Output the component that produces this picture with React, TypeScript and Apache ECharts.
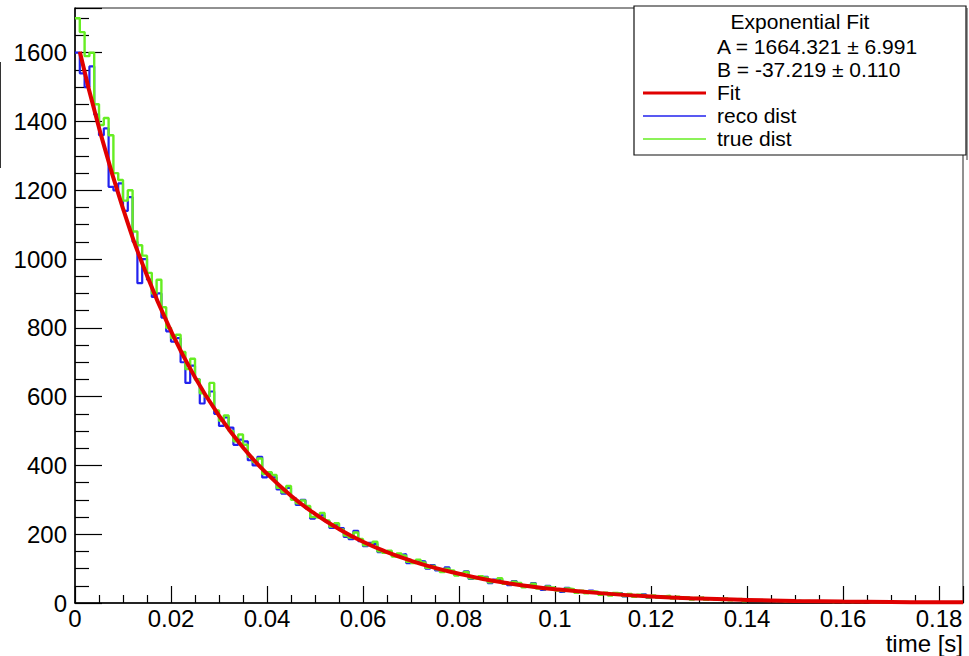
import React, { useEffect, useRef } from "react";
import * as echarts from "echarts";

const BIN_WIDTH = 0.001;
const trueDist = [
  1700, 1660, 1590, 1600, 1450, 1390, 1410, 1360, 1250, 1230,
  1170, 1200, 1080, 1040, 1010, 960, 900, 940, 860, 800,
  770, 780, 730, 680, 710, 650, 610, 600, 640, 560,
  530, 545, 500, 470, 490, 460, 425, 410, 420, 375,
  380, 372, 335, 322, 340, 300, 290, 298, 282, 250,
  248, 262, 240, 222, 232, 214, 196, 190, 205, 186,
  168, 172, 178, 150, 146, 152, 135, 144, 138, 120,
  116, 126, 118, 102, 108, 98, 90, 100, 95, 80,
  86, 90, 72, 70, 78, 74, 60, 66, 72, 56,
  54, 62, 58, 46, 52, 56, 42, 40, 48, 45,
  36, 34, 42, 40, 30, 36, 28, 34, 33, 24,
  30, 22, 29, 27, 20, 26, 18, 24, 23, 16,
  22, 15, 20, 21, 13, 18, 12, 17, 10, 15,
  16, 9, 14, 10, 8, 13, 8, 11, 12, 6,
  9, 7, 8, 6, 8, 6, 7, 5, 7, 5,
  6, 5, 6, 4, 5, 4, 5, 3, 5, 3,
  4, 3, 4, 3, 4, 2, 3, 2, 3, 2,
  3, 2, 3, 2, 2, 1, 2, 2, 1, 2,
  1, 2, 1, 1, 1,
];
const recoDist = [
  1600, 1540, 1500, 1560, 1420, 1360, 1380, 1210, 1200, 1220,
  1140, 1180, 1050, 930, 1000, 940, 890, 900, 830, 790,
  760, 770, 700, 640, 690, 650, 580, 600, 615, 550,
  515, 540, 510, 460, 475, 470, 415, 400, 425, 365,
  375, 365, 330, 318, 335, 305, 285, 300, 275, 245,
  250, 255, 238, 218, 228, 218, 192, 186, 210, 180,
  165, 175, 172, 148, 150, 148, 138, 140, 142, 116,
  120, 122, 121, 100, 110, 95, 93, 104, 92, 84,
  82, 92, 70, 73, 76, 76, 58, 68, 70, 58,
  52, 64, 56, 48, 50, 58, 44, 38, 50, 43,
  38, 32, 44, 38, 32, 34, 30, 36, 31, 26,
  28, 24, 27, 29, 19, 24, 20, 22, 25, 15,
  20, 16, 19, 19, 14, 17, 13, 15, 11, 14,
  15, 10, 13, 11, 9, 12, 9, 10, 11, 7,
  8, 7, 8, 7, 7, 6, 7, 6, 6, 5,
  6, 5, 5, 4, 5, 4, 4, 3, 4, 3,
  4, 3, 3, 3, 3, 2, 3, 2, 3, 2,
  2, 2, 2, 2, 2, 1, 2, 2, 1, 2,
  1, 1, 1, 1, 1,
];
const fitT = [
  0.001, 0.005, 0.01, 0.015, 0.02, 0.025, 0.03, 0.035, 0.04, 0.045,
  0.05, 0.055, 0.06, 0.065, 0.07, 0.075, 0.08, 0.085, 0.09, 0.095,
  0.1, 0.11, 0.12, 0.13, 0.14, 0.15, 0.16, 0.17, 0.18, 0.185,
];
const fitV = [
  1603, 1382, 1147, 952, 791, 656, 545, 452, 376, 312,
  259, 215, 178, 148, 123, 102, 85, 70, 58, 48,
  40, 28, 19, 13, 9, 6, 4, 3, 2, 2,
];
const legendTitle = "Exponential Fit";
const legendA = "A = 1664.321 ± 6.991";
const legendB = "B = -37.219 ± 0.110";
const legendNames = ["Fit", "reco dist", "true dist"];
const xTitle = "time [s]";

function histPoints(vals: number[]) {
  const pts: [number, number][] = [];
  vals.forEach((v, i) => pts.push([+(i * BIN_WIDTH).toFixed(4), v]));
  pts.push([+(vals.length * BIN_WIDTH).toFixed(4), vals[vals.length - 1]]);
  return pts;
}

export default function App() {
  const ref = useRef<HTMLDivElement>(null);
  useEffect(() => {
    if (!ref.current) return;
    const chart = echarts.init(ref.current, null, { renderer: "svg" });
    const font = "Liberation Sans, Arial, sans-serif";
    const RED = "#e00000";
    const BLUE = "#2222ee";
    const GREEN = "#66ee22";
    const legendColors = [RED, BLUE, GREEN];
    const legendY = [93, 116, 139];
    chart.setOption({
      animation: false,
      backgroundColor: "#ffffff",
      grid: {
        left: 75,
        top: 8,
        right: 6,
        bottom: 53,
        show: true,
        borderColor: "#222",
        borderWidth: 1,
        backgroundColor: "transparent",
      },
      xAxis: {
        type: "value",
        min: 0,
        max: 0.185,
        interval: 0.02,
        axisLine: { show: true, onZero: false, lineStyle: { color: "#000", width: 1.5 } },
        axisTick: { show: true, inside: true, length: 17, lineStyle: { color: "#000", width: 1.2 } },
        minorTick: { show: true, splitNumber: 4, length: 8, lineStyle: { color: "#000", width: 1.2 } },
        splitLine: { show: false },
        axisLabel: {
          color: "#000",
          fontSize: 24,
          fontFamily: font,
          margin: 3,
          showMaxLabel: false,
          formatter: (v: number) => String(+v.toFixed(3)),
        },
      },
      yAxis: {
        type: "value",
        min: 0,
        max: 1730,
        interval: 200,
        axisLine: { show: true, onZero: false, lineStyle: { color: "#000", width: 1.5 } },
        axisTick: { show: true, inside: true, length: 27, lineStyle: { color: "#000", width: 1.2 } },
        minorTick: { show: true, splitNumber: 4, length: 14, lineStyle: { color: "#000", width: 1.2 } },
        splitLine: { show: false },
        axisLabel: {
          color: "#000",
          fontSize: 24,
          fontFamily: font,
          margin: 8,
          showMaxLabel: false,
          formatter: (v: number) => String(Math.round(v)),
        },
      },
      series: [
        {
          name: "reco dist",
          type: "line",
          step: "end",
          data: histPoints(recoDist),
          showSymbol: false,
          lineStyle: { color: BLUE, width: 2.2 },
          z: 2,
        },
        {
          name: "true dist",
          type: "line",
          step: "end",
          data: histPoints(trueDist),
          showSymbol: false,
          lineStyle: { color: GREEN, width: 2.4 },
          z: 3,
        },
        {
          name: "Fit",
          type: "line",
          smooth: true,
          data: fitT.map((t, i) => [t, fitV[i]]),
          showSymbol: false,
          lineStyle: { color: RED, width: 4 },
          z: 4,
        },
      ],
      graphic: [
        { type: "line", shape: { x1: 0.5, y1: 62, x2: 0.5, y2: 168 }, style: { stroke: "#333", lineWidth: 1 } },
        { type: "rect", shape: { x: 634, y: 6, width: 332, height: 149 }, style: { fill: "#fff", stroke: "#111", lineWidth: 1.2 }, z: 10 },
        { type: "line", shape: { x1: 967, y1: 8, x2: 967, y2: 160 }, style: { stroke: "#333", lineWidth: 1 }, z: 10 },
        { type: "text", x: 800, y: 21, style: { text: legendTitle, font: `21px ${font}`, fill: "#000", align: "center", verticalAlign: "middle" }, z: 11 },
        { type: "text", x: 717, y: 46, style: { text: legendA, font: `21px ${font}`, fill: "#000", align: "left", verticalAlign: "middle" }, z: 11 },
        { type: "text", x: 717, y: 69, style: { text: legendB, font: `21px ${font}`, fill: "#000", align: "left", verticalAlign: "middle" }, z: 11 },
        ...legendNames.flatMap((n, i) => [
          { type: "line", shape: { x1: 643, y1: legendY[i], x2: 706, y2: legendY[i] }, style: { stroke: legendColors[i], lineWidth: i === 0 ? 3 : 1.5 }, z: 11 },
          { type: "text", x: 717, y: legendY[i] - 1, style: { text: n, font: `21px ${font}`, fill: "#000", align: "left", verticalAlign: "middle" }, z: 11 },
        ]),
        { type: "text", x: 963, y: 643, style: { text: xTitle, font: `24px ${font}`, fill: "#000", align: "right", verticalAlign: "middle" }, z: 11 },
      ],
    });
    return () => chart.dispose();
  }, []);
  return (
    <div
      ref={ref}
      style={{ position: "fixed", left: 0, top: 0, width: 969, height: 656, background: "#fff" }}
    />
  );
}
